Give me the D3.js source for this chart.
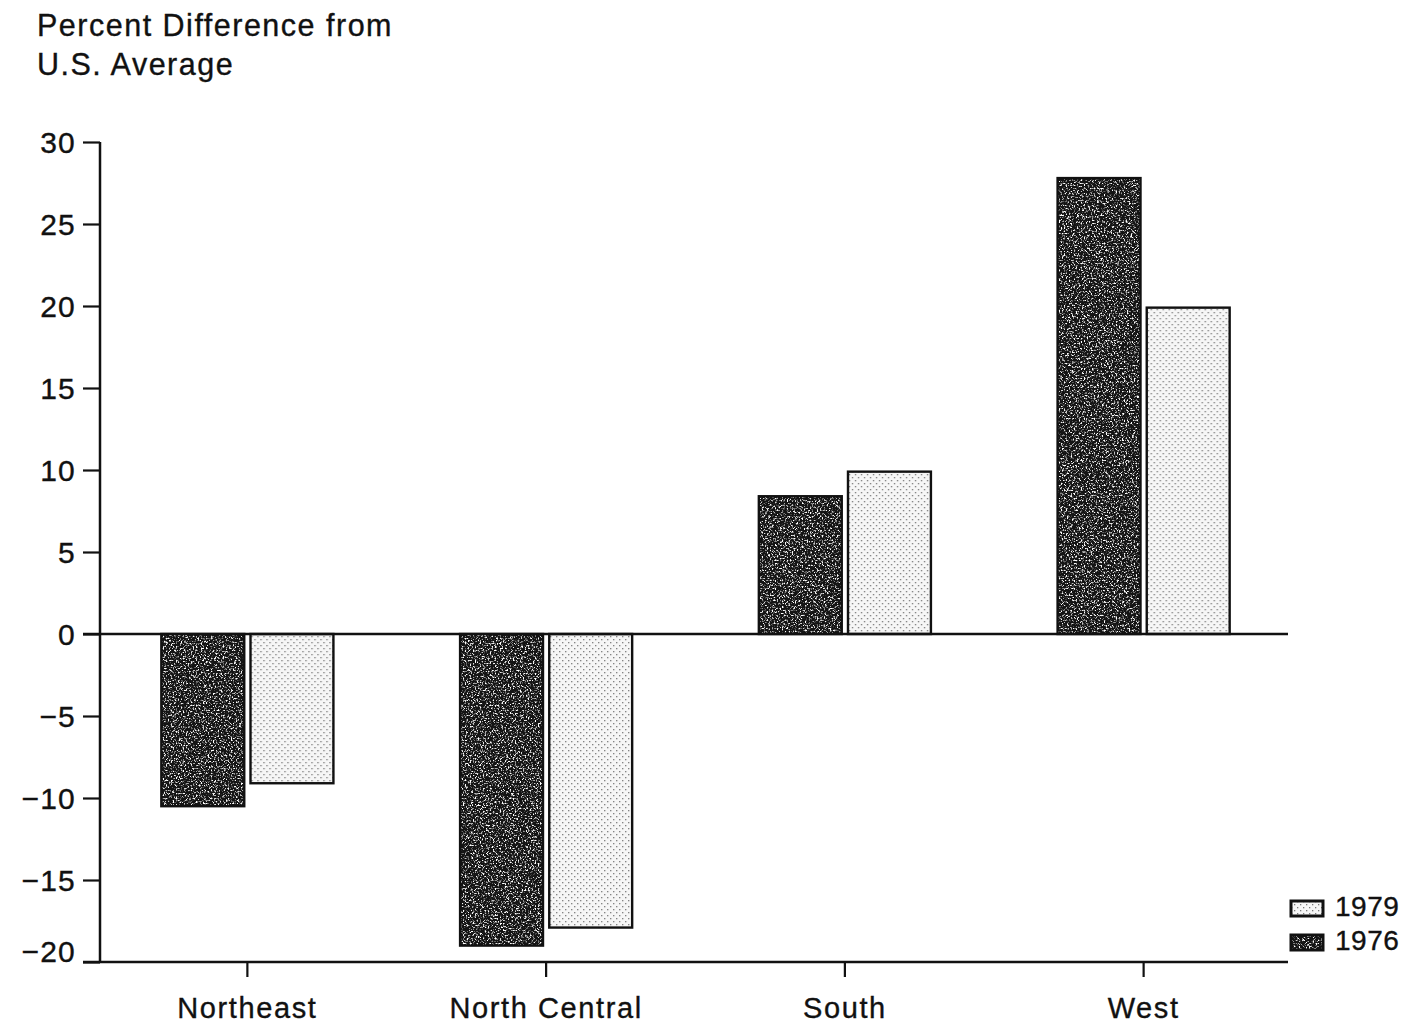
<!DOCTYPE html>
<html>
<head>
<meta charset="utf-8">
<script src="https://cdn.jsdelivr.net/npm/d3@7"></script>
<style>
  html, body { margin: 0; padding: 0; background: #fff; }
  text { font-family: "Liberation Sans", Arial, Helvetica, sans-serif; fill: #111; stroke: #111; stroke-width: 0.35px; }
</style>
</head>
<body>
<svg id="chart" width="1405" height="1025"></svg>
<script>
const categories = ["Northeast", "North Central", "South", "West"];
const years = ["1976", "1979"];
const values1976 = [-10.5, -19.0, 8.4, 27.8];
const values1979 = [-9.1, -17.9, 9.9, 19.9];
const yTicks = [-20, -15, -10, -5, 0, 5, 10, 15, 20, 25, 30];
const titleLines = ["Percent Difference from", "U.S. Average"];
const legendItems = ["1979", "1976"];

const svg = d3.select("#chart");
const defs = svg.append("defs");

// light dotted pattern
const dots = defs.append("pattern").attr("id", "dots")
  .attr("patternUnits", "userSpaceOnUse").attr("width", 6).attr("height", 6);
dots.append("rect").attr("width", 6).attr("height", 6).attr("fill", "#f6f6f6");
dots.append("rect").attr("x", 0).attr("y", 0).attr("width", 1.3).attr("height", 1.3).attr("fill", "#7a7a7a");
dots.append("rect").attr("x", 3).attr("y", 3).attr("width", 1.3).attr("height", 1.3).attr("fill", "#7a7a7a");

// speckle noise filter for dark bars
const f = defs.append("filter").attr("id", "speckle")
  .attr("x", 0).attr("y", 0).attr("width", 1).attr("height", 1);
f.append("feTurbulence").attr("type", "fractalNoise").attr("baseFrequency", 0.6)
  .attr("numOctaves", 3).attr("seed", 7).attr("result", "n");
f.append("feColorMatrix").attr("in", "n").attr("type", "matrix")
  .attr("values", "0 0 0 0 1  0 0 0 0 1  0 0 0 0 1  5 0 0 0 -2.6").attr("result", "w");
f.append("feComposite").attr("in", "w").attr("in2", "SourceGraphic").attr("operator", "in");

const y = d3.scaleLinear().domain([-20, 30]).range([962, 142]);
const x0 = d3.scaleBand().domain(categories).range([98, 1293])
  .paddingInner(0.424).paddingOuter(0.212);
const x1 = d3.scaleBand().domain(years).range([0, x0.bandwidth()]).paddingInner(0.07);

const data = categories.map((c, i) => ({ cat: c, vals: [
  { year: "1976", v: values1976[i] }, { year: "1979", v: values1979[i] }
]}));

// title
svg.append("g").selectAll("text").data(titleLines).join("text")
  .attr("x", 37).attr("y", (d, i) => 36 + i * 39)
  .attr("font-size", 30.5).attr("letter-spacing", "1.5px")
  .text(d => d);

// bars
const groups = svg.append("g").selectAll("g").data(data).join("g")
  .attr("transform", d => `translate(${x0(d.cat)},0)`);

groups.selectAll("rect.base").data(d => d.vals).join("rect")
  .attr("class", "base")
  .attr("x", d => x1(d.year))
  .attr("width", x1.bandwidth())
  .attr("y", d => Math.min(y(0), y(d.v)))
  .attr("height", d => Math.abs(y(d.v) - y(0)))
  .attr("fill", d => d.year === "1976" ? "#141414" : "url(#dots)");

groups.selectAll("rect.noise").data(d => d.vals.filter(v => v.year === "1976")).join("rect")
  .attr("class", "noise")
  .attr("x", d => x1(d.year))
  .attr("width", x1.bandwidth())
  .attr("y", d => Math.min(y(0), y(d.v)))
  .attr("height", d => Math.abs(y(d.v) - y(0)))
  .attr("fill", "#fff")
  .attr("filter", "url(#speckle)");

groups.selectAll("rect.edge").data(d => d.vals).join("rect")
  .attr("class", "edge")
  .attr("x", d => x1(d.year))
  .attr("width", x1.bandwidth())
  .attr("y", d => Math.min(y(0), y(d.v)))
  .attr("height", d => Math.abs(y(d.v) - y(0)))
  .attr("fill", "none").attr("stroke", "#111").attr("stroke-width", 2.4);

// zero line
svg.append("line").attr("x1", 83).attr("x2", 1288)
  .attr("y1", y(0)).attr("y2", y(0))
  .attr("stroke", "#111").attr("stroke-width", 2.5);

// y axis
const yAxis = d3.axisLeft(y).tickValues(yTicks).tickSize(17).tickPadding(7)
  .tickFormat(d3.format("d"));
const gy = svg.append("g").attr("transform", "translate(100,0)").call(yAxis);
gy.select(".domain").attr("d", `M0,${y(30)}V962`).attr("stroke", "#111").attr("stroke-width", 2.5);
gy.selectAll(".tick line").attr("stroke", "#111").attr("stroke-width", 2.2);
gy.selectAll(".tick text").attr("font-size", 30).attr("letter-spacing", "1.2px")
  .attr("font-family", "'Liberation Sans', Arial, sans-serif").attr("fill", "#111")
  .attr("dy", d => d === -20 ? "-0.02em" : "0.34em");

// x axis
const xAxis = d3.axisBottom(x0).tickSize(15).tickPadding(20);
const gx = svg.append("g").attr("transform", "translate(0,962)").call(xAxis);
gx.select(".domain").attr("d", "M83,0H1288").attr("stroke", "#111").attr("stroke-width", 2.5);
gx.selectAll(".tick line").attr("stroke", "#111").attr("stroke-width", 2.2);
gx.selectAll(".tick text").attr("font-size", 29).attr("letter-spacing", "1.6px")
  .attr("font-family", "'Liberation Sans', Arial, sans-serif").attr("fill", "#111")
  .attr("dy", "0.71em");

// legend
const lg = svg.append("g").selectAll("g").data(legendItems).join("g")
  .attr("transform", (d, i) => `translate(1291,${901 + i * 34})`);
lg.append("rect").attr("width", 32).attr("height", 15)
  .attr("fill", d => d === "1976" ? "#141414" : "url(#dots)");
lg.filter(d => d === "1976").append("rect").attr("width", 32).attr("height", 15)
  .attr("fill", "#fff").attr("filter", "url(#speckle)");
lg.append("rect").attr("width", 32).attr("height", 15)
  .attr("fill", "none").attr("stroke", "#111").attr("stroke-width", 3);
lg.append("text").attr("x", 44).attr("y", 15).attr("font-size", 28)
  .attr("letter-spacing", "0.5px").text(d => d);
</script>
</body>
</html>
